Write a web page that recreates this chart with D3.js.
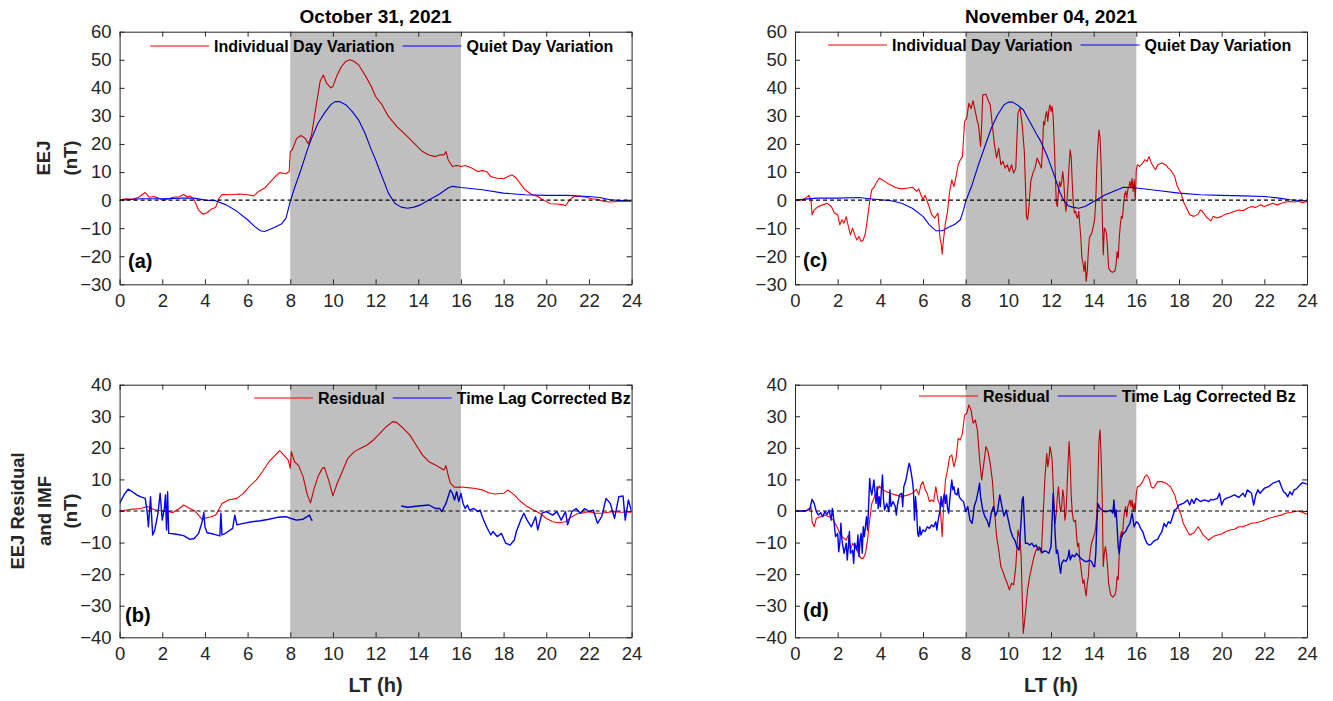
<!DOCTYPE html>
<html>
<head>
<meta charset="utf-8">
<script src="https://cdn.jsdelivr.net/npm/d3@7"></script>
<style>
  body { margin: 0; background: #ffffff; }
  svg { display: block; font-family: "Liberation Sans", Arial, Helvetica, sans-serif; }
</style>
</head>
<body>
<svg id="fig" width="1333" height="701"></svg>
<script>
// ---------------------------------------------------------------------------
// Data: [local time (h), value (nT)]
// ---------------------------------------------------------------------------
const hourTicks = [0, 2, 4, 6, 8, 10, 12, 14, 16, 18, 20, 22, 24];
const eejTicks = [-30, -20, -10, 0, 10, 20, 30, 40, 50, 60];
const residualTicks = [-40, -30, -20, -10, 0, 10, 20, 30, 40];
const daytimeWindow = [8, 16];

const dayTitles = ["October 31, 2021", "November 04, 2021"];
const panelTags = ["(a)", "(b)", "(c)", "(d)"];
const topLegendNames = ["Individual Day Variation", "Quiet Day Variation"];
const bottomLegendNames = ["Residual", "Time Lag Corrected Bz"];

// October 31, 2021 - EEJ individual day variation
const oct31Individual = [[0,0],[0.3,0.5],[0.6,0.3],[0.9,1],[1.2,2.7],[1.4,1],[1.6,1.3],[1.8,0.8],[2,0],[2.3,0.4],[2.5,1],[2.8,1.2],[3,2],[3.2,1],[3.3,1.5],[3.5,0],[3.7,-3.5],[3.9,-5],[4.1,-4.5],[4.3,-3.2],[4.5,-2.6],[4.65,0.5],[4.8,2],[5.2,1.9],[5.6,2.2],[6,1.9],[6.3,1.5],[6.5,3],[6.8,4.3],[7,6],[7.3,8.4],[7.5,9.8],[7.8,9.4],[7.95,10.2],[8.0,17.3],[8.1,18],[8.3,22],[8.5,23],[8.7,22],[8.85,20],[9.0,23.3],[9.2,33],[9.4,42.3],[9.55,44.6],[9.7,41.7],[9.9,40],[10.0,40.5],[10.2,44.6],[10.4,47.6],[10.6,49.4],[10.8,50],[11.0,49.4],[11.2,48.2],[11.5,44.6],[11.8,40.5],[12.0,36.9],[12.3,34],[12.6,29.8],[13.0,26.2],[13.4,23.3],[13.8,20.3],[14.2,17.3],[14.5,16.1],[14.8,15.5],[15.0,16.1],[15.2,16.1],[15.3,17.3],[15.4,14.4],[15.6,12],[15.8,12.3],[16,12],[16.2,12.3],[16.5,11.4],[16.8,10.2],[17.0,10.5],[17.2,10.2],[17.4,8.4],[17.7,7.8],[18.0,7.6],[18.2,8.4],[18.4,9],[18.6,7.8],[18.8,5.7],[19.0,3.7],[19.3,2.1],[19.6,1.3],[19.9,-0.1],[20.2,-1.3],[20.5,-1.4],[20.8,-1.7],[20.9,-2],[21.1,0.1],[21.3,1.3],[21.6,1.3],[21.9,1],[22.1,0.5],[22.4,0.3],[22.7,-0.5],[23.0,-0.7],[23.3,-0.5],[23.6,-0.3],[24,-0.5]];

// October 31, 2021 - EEJ quiet day variation
const oct31Quiet = [[0,0],[1,0.5],[2,0.5],[3,0.7],[3.5,0.7],[4,0],[4.5,-0.2],[5,-1.7],[5.5,-4],[6,-7],[6.3,-9.2],[6.6,-10.9],[6.8,-11.2],[7.0,-10.6],[7.3,-9.6],[7.6,-8.4],[7.8,-6.4],[8.0,-0.5],[8.2,4.3],[8.5,10.8],[8.8,17.9],[9.0,22],[9.3,27.4],[9.6,31],[9.9,34],[10.1,35.1],[10.3,35.1],[10.6,34],[10.9,31.6],[11.2,28.6],[11.5,23.9],[11.8,17.9],[12.0,14.4],[12.3,8.4],[12.6,2.5],[12.9,-1.1],[13.2,-2.5],[13.5,-2.9],[13.8,-2.5],[14.1,-1.7],[14.5,0],[15,2.2],[15.4,4.3],[15.6,4.9],[16,4.5],[17,3.7],[18,2.5],[19,1.9],[20,1.7],[21,1.7],[22,1.3],[22.5,0.9],[23,0.1],[23.5,-0.2],[24,-0.1]];

// October 31, 2021 - EEJ residual
const oct31Residual = [[0,0],[0.5,0.5],[1,0.8],[1.3,1.4],[1.6,0.5],[2,0],[2.3,-0.2],[2.5,-0.5],[2.8,0.8],[3.0,1.9],[3.3,0.8],[3.5,0.1],[3.7,-1.3],[3.9,-2.9],[4.0,-2.3],[4.3,-1.8],[4.5,-1.3],[4.6,-0.2],[4.8,2.4],[5.1,3.5],[5.5,4],[5.8,5.6],[6.1,7.9],[6.4,9.8],[6.7,12.5],[7.0,15.6],[7.3,17.7],[7.5,19.1],[7.7,17.7],[7.9,16.2],[8.0,13.5],[8.05,18.8],[8.2,15.6],[8.4,14.3],[8.6,10.9],[8.8,5.1],[8.95,2.6],[9.1,6.7],[9.3,10.9],[9.5,13.5],[9.6,13.8],[9.8,9.8],[10.0,4.8],[10.2,8.8],[10.4,11.9],[10.7,16.7],[11.0,18.8],[11.3,19.9],[11.6,20.9],[11.9,22.5],[12.2,24.6],[12.5,26.7],[12.8,28.3],[13.0,28],[13.3,26.2],[13.6,24.1],[13.9,20.9],[14.2,17.7],[14.5,15.6],[14.8,14.6],[15.0,13.8],[15.2,13],[15.3,14.3],[15.4,11.4],[15.5,8.8],[15.7,7.5],[16.0,7.6],[16.3,7.4],[16.6,7.2],[17,6.7],[17.3,5.8],[17.6,5.4],[18,5.6],[18.2,6.7],[18.5,5.1],[18.8,3],[19.1,1.4],[19.4,0.3],[19.7,-0.7],[20.0,-2.3],[20.3,-3.4],[20.6,-3.7],[20.9,-3.4],[21.2,-1.8],[21.5,-0.7],[21.8,-0.5],[22,-0.2],[22.3,-0.7],[22.6,-0.7],[22.9,-0.4],[23.2,-0.2],[23.5,-0.4],[24,-0.4]];

// October 31, 2021 - time lag corrected IMF Bz (null = data gap)
const oct31Bz = [[0,2.4],[0.2,5],[0.4,6.9],[0.6,6.1],[0.8,5.1],[1.0,4.5],[1.2,4],[1.3,-0.7],[1.35,-5],[1.45,4.5],[1.55,-7.6],[1.65,-6],[1.8,-0.7],[1.9,5.6],[2.0,-2.9],[2.1,0.8],[2.15,5.1],[2.2,-6],[2.25,6.1],[2.3,-7.1],[2.6,-7.3],[3.0,-7.8],[3.3,-9],[3.5,-8.7],[3.7,-7.1],[3.85,-3.9],[3.95,-0.5],[4.0,-5],[4.1,-6.9],[4.4,-7.3],[4.7,-7.9],[4.75,-0.7],[4.8,-7.6],[5.0,-6.9],[5.3,-5.5],[5.4,-1.3],[5.5,-4.4],[5.8,-3.9],[6.2,-3.4],[6.6,-3.1],[7.0,-2.6],[7.4,-2],[7.8,-1.8],[8.0,-2.3],[8.3,-2.9],[8.6,-2.6],[8.9,-1.3],[9.0,-2.9],[9.05,-2.9],[9.1,null],[13.15,null],[13.2,1.6],[13.5,1.2],[14,1.6],[14.5,1.9],[14.8,0.8],[15.0,0.8],[15.1,-0.2],[15.3,2.4],[15.5,6.7],[15.6,5.6],[15.7,3.5],[15.8,6.1],[15.9,3],[16,5.6],[16.1,2.4],[16.2,0.8],[16.3,1.9],[16.4,0.3],[16.6,0.8],[16.8,-0.2],[16.9,0.3],[17.0,-1.8],[17.2,-5],[17.4,-7.6],[17.5,-6.5],[17.7,-8.1],[17.9,-7.1],[18.1,-10.2],[18.3,-10.8],[18.5,-9.2],[18.6,-6.5],[18.8,-2.9],[18.95,-0.7],[19.1,-2.9],[19.3,-5],[19.5,-1.8],[19.6,-6],[19.8,-0.7],[20.0,-0.2],[20.3,-1.3],[20.5,-0.2],[20.7,-2.9],[20.9,-0.2],[21.0,-4.4],[21.2,-0.2],[21.4,0.8],[21.6,-0.7],[21.8,0.8],[22.0,-0.2],[22.2,0.3],[22.4,-3.9],[22.6,-1.8],[22.8,4],[23.0,2.4],[23.2,-2.3],[23.4,4.5],[23.6,4.8],[23.7,-2.9],[23.85,3.5],[24,-0.2]];

// November 04, 2021 - EEJ individual day variation
const nov04Individual = [[0,0],[0.3,0],[0.5,0.7],[0.65,1.7],[0.75,0],[0.8,-5.2],[0.9,-3.5],[1.1,-2.3],[1.3,-1.7],[1.5,-1.1],[1.7,-2.3],[1.85,-4.6],[2.0,-5.2],[2.1,-8.8],[2.2,-7],[2.3,-8.2],[2.4,-5.9],[2.5,-9.4],[2.6,-12.4],[2.7,-10],[2.8,-12.4],[2.9,-14.2],[3.0,-13],[3.1,-14.8],[3.2,-14.2],[3.3,-11.8],[3.4,-6.4],[3.5,-0.5],[3.6,3.7],[3.7,4.5],[3.8,6],[3.95,7.8],[4.1,7.2],[4.4,5.7],[4.7,4.5],[5.0,4],[5.3,4.3],[5.5,4.6],[5.7,3.1],[5.8,4],[5.9,1.9],[6.0,0.1],[6.1,1.7],[6.2,-0.5],[6.3,-2.6],[6.4,-5.2],[6.55,-6.4],[6.7,-4.6],[6.8,-13.6],[6.85,-15.4],[6.9,-19.3],[6.95,-14.8],[7.05,-8.2],[7.15,-4],[7.25,3.1],[7.35,7.2],[7.45,4.8],[7.55,8.4],[7.65,12.6],[7.75,14.3],[7.85,15.5],[7.95,28],[8.05,29.2],[8.15,34.5],[8.25,32.6],[8.35,35.4],[8.45,31.6],[8.55,28],[8.6,26.8],[8.7,19.1],[8.75,26.8],[8.8,37.5],[8.95,37.7],[9.05,35.7],[9.15,34],[9.25,26.8],[9.35,19.7],[9.45,15],[9.55,18.5],[9.65,12.6],[9.75,13.8],[9.85,11.4],[9.95,12.6],[10.05,10.2],[10.15,12.6],[10.25,9.6],[10.35,11.4],[10.45,31],[10.55,32.8],[10.65,26.8],[10.75,17.3],[10.85,-5.8],[10.9,-7],[10.95,-4],[11.05,6.6],[11.15,9.6],[11.25,11.4],[11.35,15],[11.45,13.2],[11.55,11.4],[11.6,17.9],[11.65,28],[11.7,26.8],[11.75,30.4],[11.8,31.6],[11.85,28],[11.9,32.1],[11.95,33.9],[12.0,31.6],[12.05,33.4],[12.1,29.8],[12.15,20.9],[12.2,9.6],[12.25,-1.1],[12.3,-2.3],[12.35,3.1],[12.4,6.6],[12.45,4.8],[12.5,6.6],[12.55,10.2],[12.6,6.6],[12.65,-0.5],[12.7,-4],[12.75,0.1],[12.8,5.4],[12.85,12.6],[12.9,17.9],[12.95,15],[13.0,5.4],[13.05,-1.7],[13.1,-4.6],[13.15,-4],[13.2,-5.8],[13.25,-6.4],[13.3,-4],[13.35,-8.8],[13.4,-13.6],[13.45,-20.7],[13.5,-22.5],[13.55,-25.4],[13.6,-21.8],[13.65,-29],[13.7,-25.4],[13.75,-18.3],[13.8,-13.6],[13.85,-12.4],[13.9,-12.1],[14.0,-8.8],[14.05,-6.4],[14.1,0.1],[14.15,12.6],[14.2,19.7],[14.25,25],[14.3,22],[14.35,12.6],[14.4,-4],[14.45,-19.5],[14.5,-10],[14.55,-10.6],[14.6,-11.8],[14.65,-17.1],[14.7,-24.2],[14.8,-25.4],[14.9,-25.7],[15.0,-25.2],[15.05,-23.1],[15.1,-18.3],[15.15,-20.7],[15.2,-13.6],[15.25,-8.8],[15.3,-5.8],[15.35,-6.4],[15.4,-1.7],[15.45,1.9],[15.5,3.1],[15.55,0.7],[15.6,3.7],[15.65,4.8],[15.7,6.6],[15.75,4.3],[15.8,7.8],[15.85,3.1],[15.9,7.2],[15.95,0.1],[16.0,10.8],[16.05,12.6],[16.15,12],[16.3,13.2],[16.4,14.4],[16.5,13.8],[16.6,15.5],[16.7,13.2],[16.8,12],[16.9,10.8],[17.0,12.6],[17.2,13.2],[17.4,12.4],[17.5,11.4],[17.6,10.8],[17.8,8.4],[17.9,5.4],[18.0,3.7],[18.1,2.5],[18.2,-0.5],[18.4,-3.5],[18.5,-5.2],[18.7,-5.8],[18.9,-5],[19.0,-3.5],[19.1,-4],[19.3,-6.2],[19.5,-7.4],[19.6,-5.8],[19.8,-6.4],[20.0,-5.8],[20.2,-5],[20.4,-4.6],[20.6,-4],[20.8,-3.5],[21.0,-3.8],[21.2,-2.9],[21.4,-2.3],[21.6,-2.6],[21.8,-1.7],[22.0,-2.3],[22.2,-1.7],[22.4,-1.1],[22.6,-1.7],[22.8,-1.1],[23.0,-0.7],[23.2,-0.5],[23.4,-0.7],[23.6,-0.4],[23.8,-0.9],[24,-0.5]];

// November 04, 2021 - EEJ quiet day variation
const nov04Quiet = [[0,0],[1,0.7],[2,0.7],[3,0.9],[3.5,0.5],[4,0.1],[4.5,-0.2],[5,-1.1],[5.5,-2.9],[6,-5.8],[6.3,-8.8],[6.6,-10.9],[6.9,-10.9],[7.2,-9.7],[7.5,-8.6],[7.75,-7],[7.9,-3.5],[8.0,-0.5],[8.3,5.4],[8.6,12.6],[8.9,19.1],[9.2,25.6],[9.5,30.4],[9.8,34],[10.0,34.9],[10.2,34.9],[10.4,34],[10.7,32.2],[11.0,28],[11.3,23.8],[11.5,21.2],[11.8,16.1],[12,12],[12.2,7.8],[12.4,3.1],[12.6,-0.2],[12.8,-2],[13.0,-2.5],[13.3,-2.9],[13.6,-2.3],[14,-0.5],[14.5,1.7],[15,3.3],[15.4,4.6],[15.8,4.5],[16,4.3],[17,3.4],[18,2.5],[19,1.9],[20,1.7],[21,1.5],[22,1.3],[22.7,0.7],[23.2,0.1],[24,-0.3]];

// November 04, 2021 - EEJ residual
const nov04Residual = [[0,0],[0.5,0],[0.7,0.5],[0.75,1.4],[0.8,-3.4],[0.9,-5],[1.0,-2.3],[1.2,-1.8],[1.4,-1.3],[1.6,-1.8],[1.8,-2.9],[2.0,-5.5],[2.1,-7.1],[2.2,-8.1],[2.4,-9.2],[2.5,-7.6],[2.6,-12.4],[2.7,-10.2],[2.8,-11.3],[2.9,-12.4],[3.0,-13.9],[3.1,-15],[3.2,-15],[3.3,-13.4],[3.4,-9.2],[3.5,-2.9],[3.6,2.4],[3.7,4],[3.8,5.6],[3.95,7.9],[4.1,6.7],[4.4,5.8],[4.7,5.1],[5.0,4.5],[5.3,5.1],[5.5,5.6],[5.7,6.9],[5.8,5.1],[5.9,8.2],[6.0,9.3],[6.1,6.7],[6.2,5.6],[6.3,3],[6.4,3.5],[6.5,3],[6.6,7.7],[6.7,3.5],[6.8,1.9],[6.9,-8.1],[6.95,-0.7],[7.05,9.8],[7.15,13],[7.25,17.2],[7.35,17.7],[7.45,14],[7.55,16.7],[7.65,23],[7.75,22.5],[7.85,24.6],[7.95,30.4],[8.05,30.9],[8.15,33.6],[8.25,32],[8.35,27.8],[8.45,28.8],[8.55,25.7],[8.65,16.7],[8.75,9.8],[8.85,15.1],[8.95,20.4],[9.05,18.8],[9.15,15.1],[9.25,9.8],[9.35,0.3],[9.45,-8.1],[9.55,-12.4],[9.65,-17.6],[9.75,-19.2],[9.85,-21.3],[9.95,-22.9],[10.05,-25],[10.15,-22.9],[10.25,-23.4],[10.35,-17.6],[10.45,-6],[10.55,-9.2],[10.6,-14.5],[10.65,-27.1],[10.7,-38.8],[10.8,-32.4],[10.9,-25],[11.0,-20.8],[11.1,-17.6],[11.2,-14.5],[11.3,-12.4],[11.45,-11.3],[11.55,-13.4],[11.65,1.4],[11.72,10.9],[11.8,18.3],[11.85,14],[11.9,16.2],[11.95,20.4],[12.0,18.8],[12.05,16.2],[12.1,8.8],[12.15,0.3],[12.2,-3.9],[12.25,-0.2],[12.3,4.5],[12.35,7.7],[12.4,2.4],[12.45,-0.2],[12.5,1.4],[12.55,6.7],[12.6,4.5],[12.65,-2.9],[12.7,-0.7],[12.75,6.7],[12.8,15.1],[12.85,22],[12.9,15.1],[12.95,4.5],[13.0,-0.7],[13.05,-2.9],[13.1,-3.4],[13.15,-2.9],[13.2,-8.1],[13.25,-11.3],[13.3,-10.2],[13.35,-15.5],[13.4,-17.6],[13.45,-20.8],[13.5,-22.9],[13.55,-21.8],[13.6,-25],[13.65,-26.9],[13.7,-22.9],[13.75,-20.8],[13.8,-15.5],[13.85,-12.4],[13.9,-10.2],[14.0,-8.1],[14.05,-7.1],[14.1,-5],[14.15,-0.7],[14.2,9.8],[14.25,22.5],[14.3,25.7],[14.35,17.2],[14.4,4.5],[14.45,-17.6],[14.5,-13.4],[14.55,-11.3],[14.6,-13.4],[14.65,-17.6],[14.7,-22.9],[14.8,-26.6],[14.9,-27.3],[15.0,-26.6],[15.05,-25],[15.1,-20.8],[15.15,-21.8],[15.2,-13.4],[15.25,-8.1],[15.3,-6.5],[15.35,-8.1],[15.4,-2.9],[15.45,-0.2],[15.5,1.4],[15.55,-1.8],[15.6,1.4],[15.65,2.4],[15.7,3.5],[15.75,1.4],[15.8,3.5],[15.85,-0.2],[15.9,2.4],[15.95,-0.2],[16.0,5.6],[16.05,7.7],[16.15,7.9],[16.3,9.3],[16.4,10.9],[16.5,11.4],[16.6,10.3],[16.7,7.7],[16.8,7.2],[16.9,8.2],[17.0,9.3],[17.2,9.3],[17.4,8.8],[17.5,8.2],[17.6,7.7],[17.8,5.1],[17.9,2.4],[18.0,0.3],[18.1,-1.3],[18.2,-3.9],[18.4,-6.5],[18.5,-7.6],[18.7,-6.9],[18.9,-5],[19.0,-6],[19.1,-7.3],[19.3,-8.7],[19.4,-9.2],[19.6,-8.1],[19.8,-7.6],[20.0,-7.3],[20.2,-6.5],[20.4,-6],[20.6,-5.8],[20.8,-5],[21.0,-5],[21.2,-4.4],[21.4,-3.9],[21.6,-3.7],[21.8,-3.4],[22.0,-2.9],[22.2,-2.3],[22.4,-2],[22.6,-1.6],[22.8,-1.3],[23.0,-0.7],[23.2,-0.5],[23.4,-0.2],[23.6,0],[23.8,-0.5],[24,-1]];

// November 04, 2021 - time lag corrected IMF Bz
const nov04Bz = [[0,0],[0.5,0],[0.7,0.8],[0.8,3.7],[0.9,2.4],[1.0,-0.2],[1.1,-1.3],[1.2,-0.5],[1.3,-1.8],[1.4,-0.2],[1.5,-1.1],[1.6,0.3],[1.7,-2.9],[1.75,0.8],[1.8,-1.6],[1.9,-8.1],[2.0,-7.1],[2.05,-12.9],[2.1,-10.2],[2.15,-3.9],[2.2,-9.2],[2.3,-13.4],[2.4,-10.2],[2.45,-15.5],[2.5,-11.3],[2.55,-6.5],[2.6,-13.4],[2.7,-12.4],[2.75,-16.6],[2.8,-10.2],[2.9,-12.4],[2.95,-7.6],[3.0,-14.5],[3.05,-9.2],[3.1,-7.1],[3.15,-13.4],[3.2,-5],[3.25,-8.1],[3.3,-5],[3.35,-1.8],[3.4,-6],[3.45,1.4],[3.5,10.3],[3.55,6.7],[3.6,5.1],[3.7,9.8],[3.75,5.6],[3.8,2.4],[3.85,7.7],[3.9,0.8],[3.95,4.5],[4.0,1.4],[4.05,6.7],[4.1,11.4],[4.15,3.5],[4.2,0.3],[4.3,2.4],[4.4,-0.2],[4.45,6.7],[4.5,1.4],[4.6,3],[4.7,1.4],[4.75,-1.3],[4.8,1.9],[4.9,5.1],[5.0,5.6],[5.05,1.4],[5.1,7.7],[5.2,9.8],[5.3,13.5],[5.35,15.1],[5.4,14],[5.5,9.8],[5.55,6.7],[5.6,-2.9],[5.65,4.5],[5.7,0.3],[5.75,-7.1],[5.8,-8.1],[5.85,-5],[5.9,-7.6],[6.0,-6],[6.1,-6.5],[6.2,-5],[6.3,-5.5],[6.4,-4.4],[6.5,-5],[6.6,-3.4],[6.65,-6],[6.7,-3.4],[6.8,0.3],[6.85,4.5],[6.9,1.4],[7.0,5.6],[7.05,2.4],[7.1,5.1],[7.15,0.8],[7.2,-0.7],[7.3,6.7],[7.35,9.8],[7.4,6.7],[7.45,7.7],[7.5,5.6],[7.6,5.1],[7.65,7.2],[7.7,4.5],[7.8,3.5],[7.9,3],[8.0,-0.2],[8.1,1.4],[8.2,-2.9],[8.3,-3.9],[8.35,-1.8],[8.4,1.4],[8.5,3.5],[8.6,6.7],[8.65,8.8],[8.7,4.5],[8.8,0.3],[8.9,-1.8],[9.0,-2.9],[9.1,-5],[9.2,-0.7],[9.3,1.4],[9.4,-1.6],[9.5,0.3],[9.6,5.1],[9.7,1.4],[9.8,-1.6],[9.9,0.3],[10.0,-2.9],[10.1,-6],[10.2,-8.1],[10.3,-9.2],[10.4,-11.3],[10.5,-12.4],[10.55,-8.1],[10.6,-2.9],[10.65,3.5],[10.7,4.5],[10.75,-2.9],[10.8,-10.2],[10.9,-10.2],[11.0,-10.8],[11.1,-10.2],[11.2,-11.3],[11.3,-10.8],[11.4,-12.4],[11.5,-11.8],[11.6,-13.2],[11.7,-12.6],[11.8,-12.9],[11.9,-13.4],[12.0,-11.3],[12.05,-2.9],[12.1,5.6],[12.15,-0.7],[12.2,-8.1],[12.25,-13.4],[12.3,-12.4],[12.35,-14.5],[12.4,-17.6],[12.45,-19.7],[12.5,-16.6],[12.6,-15.5],[12.7,-16],[12.8,-14.5],[12.85,-12.4],[12.9,-15.5],[13.0,-13.9],[13.1,-14.5],[13.2,-13.4],[13.3,-14.3],[13.4,-15],[13.5,-15.5],[13.6,-16],[13.7,-16],[13.8,-15.5],[13.9,-16],[14.0,-17.6],[14.05,-17.6],[14.1,-13.4],[14.15,-3.9],[14.2,2.4],[14.3,0.8],[14.4,0.3],[14.5,-0.2],[14.6,-0.2],[14.7,0],[14.8,0.3],[14.9,-0.7],[14.95,3.5],[15.0,-1.8],[15.05,0.3],[15.1,-5],[15.15,-11.3],[15.2,-13.4],[15.25,-10.2],[15.3,-8.1],[15.4,-7.1],[15.5,-6.5],[15.6,-5],[15.7,-3.9],[15.8,-0.7],[15.85,-2.9],[15.9,-5],[16.0,-3.4],[16.1,-3.9],[16.2,-5.5],[16.3,-6.5],[16.4,-8.7],[16.5,-10.2],[16.6,-10.8],[16.7,-10.5],[16.8,-9.7],[16.9,-9.2],[17.0,-9],[17.1,-7.6],[17.2,-6.5],[17.3,-3.9],[17.4,-5],[17.5,-3.4],[17.6,-3.9],[17.7,-1.8],[17.8,0.3],[17.9,0.8],[18.0,1.9],[18.2,2.4],[18.4,3.5],[18.5,1.9],[18.6,3.7],[18.7,2.4],[18.8,4],[19.0,3],[19.2,3.5],[19.4,3],[19.5,3.7],[19.6,3.5],[19.8,4],[19.9,5.6],[20.0,1.9],[20.1,3.5],[20.2,4],[20.4,4.5],[20.6,5.1],[20.8,4.3],[21.0,5.6],[21.1,4.5],[21.2,6.7],[21.4,5.6],[21.5,1.9],[21.6,5.1],[21.7,6.7],[21.8,5.6],[22.0,7.2],[22.2,7.7],[22.4,8.8],[22.6,9.3],[22.7,9.6],[22.8,7.7],[22.9,6.1],[23.0,5.6],[23.1,4.5],[23.2,6.1],[23.3,5.1],[23.4,6.7],[23.5,7],[23.7,8.5],[23.8,9],[24,8.5]];

// ---------------------------------------------------------------------------
// Layout
// ---------------------------------------------------------------------------
const svg = d3.select("#fig");
const plotW = 512, plotH = 252.6;
const colX = [119.6, 795];
const rowY = [31.7, 384.7];
const RED = "#ff0000", BLUE = "#0000ff", AXIS = "#262626";

const panels = [
  { tag: panelTags[0], col: 0, row: 0, domain: [-30, 60], ticks: eejTicks,
    series: [{ data: oct31Individual, color: RED, width: 1.1 }, { data: oct31Quiet, color: BLUE, width: 1.1 }],
    legend: { names: topLegendNames, x: 150, y: 46 }, tagPos: [128, 268] },
  { tag: panelTags[1], col: 0, row: 1, domain: [-40, 40], ticks: residualTicks,
    series: [{ data: oct31Residual, color: RED, width: 1.1 }, { data: oct31Bz, color: BLUE, width: 1.4 }],
    legend: { names: bottomLegendNames, x: 254, y: 398 }, tagPos: [125, 622] },
  { tag: panelTags[2], col: 1, row: 0, domain: [-30, 60], ticks: eejTicks,
    series: [{ data: nov04Individual, color: RED, width: 1.1 }, { data: nov04Quiet, color: BLUE, width: 1.1 }],
    legend: { names: topLegendNames, x: 828, y: 45 }, tagPos: [803, 267] },
  { tag: panelTags[3], col: 1, row: 1, domain: [-40, 40], ticks: residualTicks,
    series: [{ data: nov04Residual, color: RED, width: 1.1 }, { data: nov04Bz, color: BLUE, width: 1.4 }],
    legend: { names: bottomLegendNames, x: 919, y: 396 }, tagPos: [803, 617] }
];

panels.forEach((p, i) => {
  const ox = colX[p.col], oy = rowY[p.row];
  const x = d3.scaleLinear().domain([0, 24]).range([0, plotW]);
  const y = d3.scaleLinear().domain(p.domain).range([plotH, 0]);
  const g = svg.append("g").attr("transform", `translate(${ox},${oy})`);

  const clipId = "clip" + i;
  g.append("clipPath").attr("id", clipId)
    .append("rect").attr("width", plotW).attr("height", plotH);
  const plot = g.append("g").attr("clip-path", `url(#${clipId})`);

  // data traces
  const line = d3.line()
    .defined(d => d[1] !== null)
    .x(d => x(d[0])).y(d => y(d[1]));
  p.series.forEach(s => {
    plot.append("path").datum(s.data)
      .attr("fill", "none").attr("stroke", s.color)
      .attr("stroke-width", s.width).attr("stroke-linejoin", "round")
      .attr("d", line);
  });

  // translucent daytime band drawn over the traces
  plot.append("rect")
    .attr("x", x(daytimeWindow[0])).attr("y", 0)
    .attr("width", x(daytimeWindow[1]) - x(daytimeWindow[0])).attr("height", plotH)
    .attr("fill", "#000000").attr("fill-opacity", 0.25);

  // zero reference
  plot.append("line")
    .attr("x1", 0).attr("x2", plotW).attr("y1", y(0)).attr("y2", y(0))
    .attr("stroke", "#000").attr("stroke-width", 1.1).attr("stroke-dasharray", "4,3");

  // axes (box with inward ticks on all sides)
  const styleAxis = sel => {
    sel.selectAll("path.domain").attr("stroke", AXIS).attr("stroke-width", 1);
    sel.selectAll(".tick line").attr("stroke", AXIS).attr("stroke-width", 1);
    sel.selectAll(".tick text").attr("fill", AXIS).attr("font-size", 18.5)
      .attr("font-family", '"Liberation Sans", Arial, sans-serif');
  };
  g.append("g").attr("transform", `translate(0,${plotH})`)
    .call(d3.axisBottom(x).tickValues(hourTicks).tickFormat(d3.format("d"))
      .tickSizeInner(-5).tickSizeOuter(0).tickPadding(10)).call(styleAxis);
  g.append("g")
    .call(d3.axisTop(x).tickValues(hourTicks).tickFormat("")
      .tickSizeInner(-5).tickSizeOuter(0)).call(styleAxis);
  g.append("g")
    .call(d3.axisLeft(y).tickValues(p.ticks).tickFormat(d3.format("d"))
      .tickSizeInner(-5).tickSizeOuter(0).tickPadding(8)).call(styleAxis);
  g.append("g").attr("transform", `translate(${plotW},0)`)
    .call(d3.axisRight(y).tickValues(p.ticks).tickFormat("")
      .tickSizeInner(-5).tickSizeOuter(0)).call(styleAxis);

  // legend (no box)
  const lg = svg.append("g").attr("transform", `translate(${p.legend.x},${p.legend.y})`);
  let cx = 0;
  p.legend.names.forEach((name, k) => {
    const color = p.series[k].color;
    lg.append("line").attr("x1", cx).attr("x2", cx + 59).attr("y1", 0).attr("y2", 0)
      .attr("stroke", color).attr("stroke-width", 1.2);
    cx += 64;
    const t = lg.append("text").attr("x", cx).attr("y", 0).attr("dy", "0.35em")
      .attr("font-size", 16).attr("font-weight", "bold").attr("fill", "#000")
      .text(name);
    cx += t.node().getComputedTextLength() + 8;
  });

  // panel tag
  svg.append("text").attr("x", p.tagPos[0]).attr("y", p.tagPos[1])
    .attr("font-size", 20).attr("font-weight", "bold").attr("fill", "#000")
    .text(p.tag);
});

// column titles and x-axis labels
dayTitles.forEach((t, c) => {
  svg.append("text").attr("x", colX[c] + plotW / 2).attr("y", 23)
    .attr("text-anchor", "middle").attr("font-size", 19).attr("font-weight", "bold")
    .attr("fill", "#000").text(t);
  svg.append("text").attr("x", colX[c] + plotW / 2).attr("y", 692)
    .attr("text-anchor", "middle").attr("font-size", 20).attr("font-weight", "bold")
    .attr("fill", AXIS).text("LT (h)");
});

// y-axis labels (left column only)
const yLabelTop = ["EEJ", "(nT)"];
const yLabelBottom = ["EEJ Residual", "and IMF", "(nT)"];
const addYLabel = (lines, baselines, cy) => {
  lines.forEach((txt, k) => {
    svg.append("text")
      .attr("transform", `translate(${baselines[k]},${cy}) rotate(-90)`)
      .attr("text-anchor", "middle").attr("font-size", 18.5).attr("font-weight", "bold")
      .attr("fill", AXIS).text(txt);
  });
};
addYLabel(yLabelTop, [50, 76.5], rowY[0] + plotH / 2);
addYLabel(yLabelBottom, [24, 50.5, 77], rowY[1] + plotH / 2);
</script>
</body>
</html>
